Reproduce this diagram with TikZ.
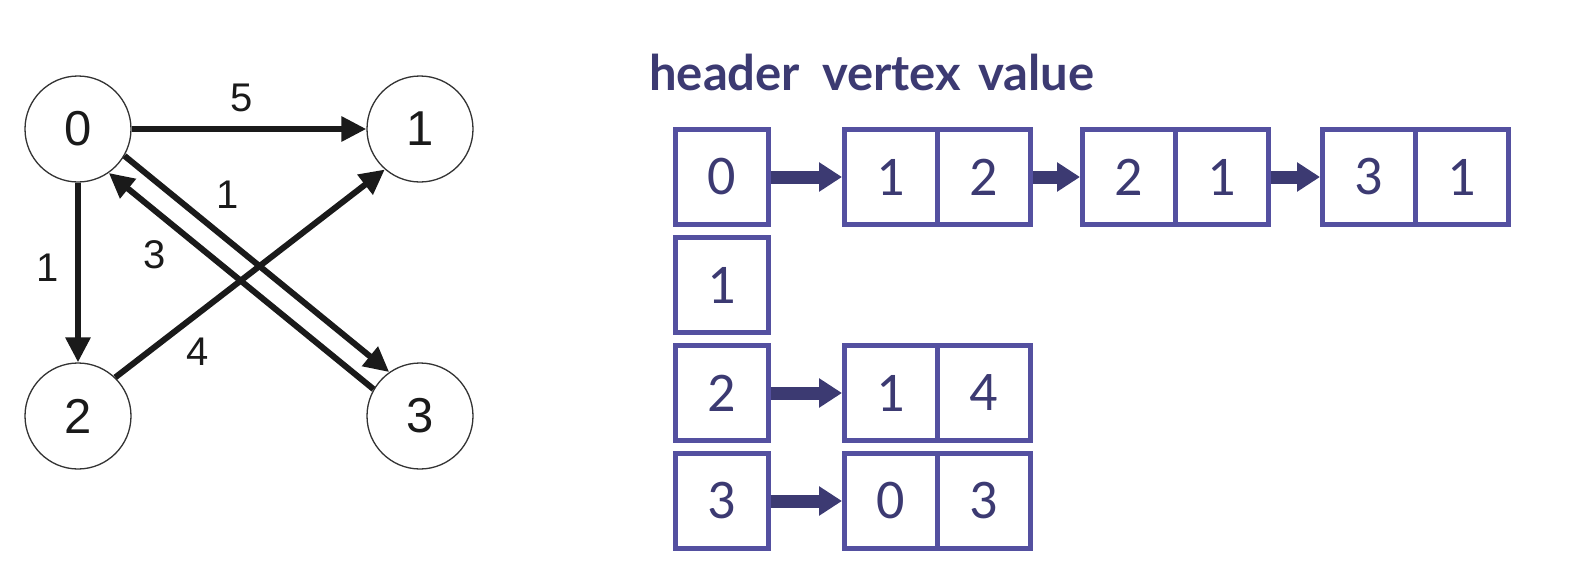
\documentclass[tikz,border=0pt]{standalone}
\usepackage{fontspec}
\setmainfont{Liberation Sans}
\newfontfamily\cellfont{Carlito}
\newfontfamily\headfont{Lato}
\usetikzlibrary{arrows.meta,calc}
\definecolor{edgec}{RGB}{26,26,26}
\definecolor{boxc}{RGB}{84,80,160}
\definecolor{navy}{RGB}{60,58,114}
\begin{document}
\begin{tikzpicture}[x=1pt,y=-1pt,
 vert/.style={circle,draw=black!80,line width=1.3pt,minimum size=106pt,inner sep=0pt,font=\fontsize{49}{54}\selectfont,text=edgec},
 edge/.style={line width=6pt,draw=edgec,-{Triangle[length=25pt,width=24pt]}},
 wlabel/.style={font=\fontsize{40}{44}\selectfont,text=edgec,inner sep=0pt},
 cell/.style={draw=boxc,line width=5pt,minimum width=93pt,minimum height=95pt,inner sep=0pt,font=\cellfont\fontsize{56}{60}\selectfont,text=navy},
 link/.style={draw=navy,line width=13pt,-{Triangle[length=23pt,width=28pt]}},
 headtxt/.style={anchor=base west,font=\headfont\bfseries\fontsize{49}{52}\selectfont,text=navy,inner sep=0pt}]
\useasboundingbox (0,0) rectangle (1571,573);
% graph
\node[vert] (n0) at (78,129) {0};
\node[vert] (n1) at (420,129) {1};
\node[vert] (n2) at (78,416) {2};
\node[vert] (n3) at (420,416) {3};
\draw[edge] (n0) -- (n1);
\draw[edge] (n0) -- (n2);
\draw[edge] (n2.46) -- (n1.229);
\draw[edge] (n0.-30) -- (n3.125);
\draw[edge] (n3.150) -- (n0.-55);
\node[wlabel] (w01) at (242,98) {5};
\node[wlabel] (w03) at (228,195) {1};
\node[wlabel] (w30) at (155,255) {3};
\node[wlabel] (w02) at (48,268) {1};
\node[wlabel] (w21) at (198,352) {4};
% header text
\node[headtxt] (t1) at (649,90) {header};
\node[headtxt] (t2) at (822,90) {vertex};
\node[headtxt] (t3) at (978,90) {value};
% header boxes
\node[cell] (h0) at (721.5,177) {0};
\node[cell] (h1) at (721.5,285) {1};
\node[cell] (h2) at (721.5,393) {2};
\node[cell] (h3) at (721.5,501) {3};
% row 0
\node[cell] (a1) at (891,177) {1};
\node[cell] (a2) at (984,177) {2};
\node[cell] (b1) at (1129,177) {2};
\node[cell] (b2) at (1222,177) {1};
\node[cell] (c1) at (1369,177) {3};
\node[cell] (c2) at (1462,177) {1};
% row 2
\node[cell] (d1) at (891,393) {1};
\node[cell] (d2) at (984,393) {4};
% row 3
\node[cell] (e1) at (891,501) {0};
\node[cell] (e2) at (984,501) {3};
\draw[link] (h0.east) -- (a1.west);
\draw[link] (a2.east) -- (b1.west);
\draw[link] (b2.east) -- (c1.west);
\draw[link] (h2.east) -- (d1.west);
\draw[link] (h3.east) -- (e1.west);
\end{tikzpicture}
\end{document}
